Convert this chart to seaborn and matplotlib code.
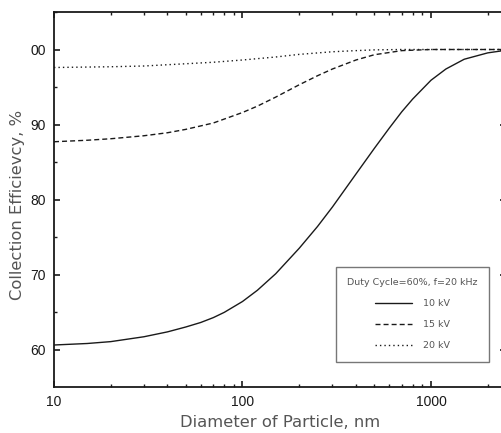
import numpy as np
import pandas as pd
import matplotlib
matplotlib.use("Agg")
import matplotlib.pyplot as plt
import seaborn as sns
from matplotlib.ticker import FixedLocator, LogLocator, NullFormatter, FixedFormatter

# ---- data ----
diam_10kv = [10, 15, 20, 30, 40, 50, 60, 70, 80, 100, 120, 150, 200, 250, 300, 400,
             500, 600, 700, 800, 1000, 1200, 1500, 2000, 2500]
eff_10kv = [60.6, 60.8, 61.05, 61.7, 62.35, 63.0, 63.6, 64.25, 64.95, 66.4, 67.9, 70.1,
            73.5, 76.4, 79.0, 83.4, 86.8, 89.5, 91.7, 93.4, 95.9, 97.4, 98.7, 99.55, 99.9]

diam_15kv = [10, 15, 20, 30, 40, 50, 70, 100, 120, 150, 200, 250, 300, 400, 500, 700, 1000, 2500]
eff_15kv = [87.7, 87.9, 88.1, 88.5, 88.9, 89.35, 90.2, 91.6, 92.45, 93.65, 95.3, 96.5, 97.4,
            98.6, 99.3, 99.85, 100.0, 100.0]

diam_20kv = [10, 20, 30, 50, 70, 100, 150, 200, 300, 400, 500, 700, 1000, 2500]
eff_20kv = [97.6, 97.7, 97.8, 98.1, 98.3, 98.6, 99.0, 99.35, 99.7, 99.85, 99.95, 100.0, 100.0, 100.0]

series_labels = ["10 kV", "15 kV", "20 kV"]
legend_title = "Duty Cycle=60%, f=20 kHz"
y_ticks = [60, 70, 80, 90, 100]
y_tick_labels = ["60", "70", "80", "90", "00"]
x_ticks = [10, 100, 1000]
x_tick_labels = ["10", "100", "1000"]

df = pd.concat([
    pd.DataFrame({"d": diam_10kv, "e": eff_10kv, "s": series_labels[0]}),
    pd.DataFrame({"d": diam_15kv, "e": eff_15kv, "s": series_labels[1]}),
    pd.DataFrame({"d": diam_20kv, "e": eff_20kv, "s": series_labels[2]}),
], ignore_index=True)

sns.set_style("ticks")
plt.rcParams["font.family"] = ["Liberation Sans", "DejaVu Sans"]

fig = plt.figure(figsize=(5.02, 4.33), dpi=100)
ax = fig.add_axes([54 / 502, 1 - 387 / 433, (506 - 54) / 502, (387 - 12) / 433])

sns.lineplot(
    data=df, x="d", y="e", hue="s", style="s",
    palette=["#1a1a1a", "#1a1a1a", "#1a1a1a"],
    dashes={"10 kV": "", "15 kV": (3.6, 2.2), "20 kV": (1, 2.2)},
    linewidth=1.0, ax=ax, legend=True, sort=True,
)

ax.set_xscale("log")
ax.set_xlim(10, 2500)
ax.set_ylim(55, 105)

ax.xaxis.set_major_locator(FixedLocator(x_ticks))
ax.xaxis.set_major_formatter(FixedFormatter(x_tick_labels))
ax.xaxis.set_minor_locator(LogLocator(base=10, subs=np.arange(2, 10)))
ax.xaxis.set_minor_formatter(NullFormatter())
ax.yaxis.set_major_locator(FixedLocator(y_ticks))
ax.yaxis.set_major_formatter(FixedFormatter(y_tick_labels))
ax.yaxis.set_minor_locator(FixedLocator([65, 75, 85, 95, 105]))

for sp in ax.spines.values():
    sp.set_visible(True)
    sp.set_linewidth(1.3)
    sp.set_color("#1a1a1a")

ax.tick_params(which="both", direction="in", top=True, right=True, colors="#1a1a1a")
ax.tick_params(which="major", length=4.5, width=1.2, labelsize=10, labelcolor="#1a1a1a", pad=6)
ax.tick_params(which="minor", length=2.5, width=1.0)

label_font = dict(family=["DejaVu Sans"], size=11.8, color="#555555")
ax.set_xlabel("Diameter of Particle, nm", labelpad=4, **label_font)
ax.set_ylabel("Collection Efficievcy, %", **label_font)
ax.yaxis.label.set_verticalalignment("center")
ax.yaxis.set_label_coords((18 - 54) / 452, (387 - 205) / 375)

handles, labels = ax.get_legend_handles_labels()
leg = ax.legend(
    handles, labels, title=legend_title,
    loc="upper left", bbox_to_anchor=((336 - 54) / (506 - 54), 1 - (267 - 12) / (387 - 12)),
    frameon=True, fancybox=False, framealpha=1, edgecolor="#777777",
    prop={"family": ["DejaVu Sans"], "size": 6.8},
    title_fontproperties={"family": ["DejaVu Sans"], "size": 6.8},
    handlelength=3.9, handletextpad=1.2, labelspacing=1.27, borderpad=1.2,
    borderaxespad=0,
)
leg.get_frame().set_linewidth(1.0)
for t in leg.get_texts():
    t.set_color("#555555")
leg.get_title().set_color("#555555")

fig.savefig("out.png", dpi=100)
